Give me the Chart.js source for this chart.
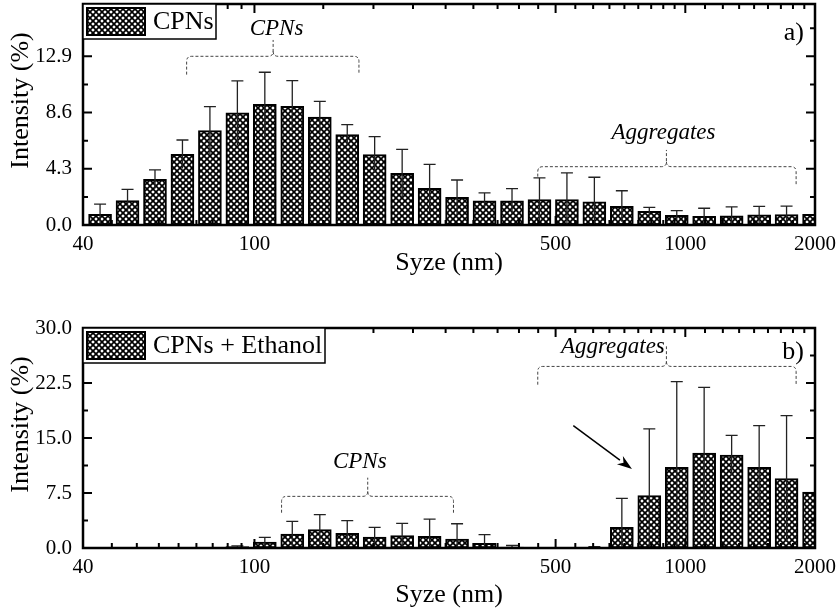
<!DOCTYPE html>
<html>
<head>
<meta charset="utf-8">
<title>CPNs size distribution</title>
<script src="https://cdn.jsdelivr.net/npm/chart.js@4.4.0/dist/chart.umd.min.js"></script>
<style>
    body {
        margin: 0;
        background-color: #fff;
    }
    .panel {
        position: absolute;
        left: 0;
    }
    #panelA { top: 0; }
    #panelB { top: 300px; }
</style>
</head>
<body>
<div class="panel" id="panelA"><canvas id="chartA" width="836" height="300"></canvas></div>
<div class="panel" id="panelB"><canvas id="chartB" width="836" height="311"></canvas></div>
<script>
// size bins (nm)
const sizes = [43.82, 50.75, 58.77, 68.06, 78.82, 91.28, 105.7, 122.4, 141.8, 164.2, 190.1, 220.2, 255.0,
    295.3, 342.0, 396.1, 458.7, 531.2, 615.1, 712.4, 825.0, 955.4, 1106, 1281, 1484, 1718, 1990];

// a) CPNs
const intensityA = [0.82, 1.86, 3.50, 5.41, 7.22, 8.57, 9.23, 9.08, 8.26, 6.91, 5.38, 3.95, 2.81,
    2.12, 1.84, 1.84, 1.94, 1.94, 1.78, 1.43, 1.05, 0.74, 0.66, 0.71, 0.77, 0.79, 0.82];
const errorA = [0.78, 0.87, 0.71, 1.09, 1.83, 2.45, 2.45, 1.96, 1.20, 0.76, 1.38, 1.84, 1.83,
    1.32, 0.61, 0.94, 1.66, 2.04, 1.87, 1.19, 0.30, 0.36, 0.62, 0.67, 0.66, 0.66, 0];

// b) CPNs + Ethanol
const intensityB = [0, 0, 0, 0, 0, 0.20, 0.82, 1.90, 2.50, 2.00, 1.50, 1.68, 1.58,
    1.22, 0.63, 0.14, 0, 0, 0.10, 2.82, 7.14, 11.0, 12.95, 12.68, 11.0, 9.45, 7.64];
const errorB = [0, 0, 0, 0, 0, 0.10, 0.63, 1.73, 2.04, 1.72, 1.31, 1.68, 2.37,
    2.09, 1.19, 0.20, 0, 0, 0.10, 3.95, 9.10, 11.7, 8.95, 2.68, 5.68, 8.60, 0];

// axis ticks
const xMajorTicks = [40, 100, 500, 1000, 2000];
const yTicksA = [0, 4.3, 8.6, 12.9];
const yMinorA = [2.15, 6.45, 10.75, 15.05];
const yTicksB = [0, 7.5, 15, 22.5, 30];
const yMinorB = [3.75, 11.25, 18.75, 26.25];

// 8 minor ticks between each pair of major ticks (Origin style)
const xMinorTicks = [];
for (let i = 0; i < xMajorTicks.length - 1; i++) {
    const a = xMajorTicks[i], b = xMajorTicks[i + 1];
    for (let k = 1; k < 9; k++) xMinorTicks.push(a + (b - a) * k / 9);
}
const xAllTicks = xMajorTicks.concat(xMinorTicks).sort((p, q) => p - q);

// annotations (data coords)
const bracketsA = [
    {label: 'CPNs', x0: 69.6, x1: 174.8, xPeak: 110.5, yBase: 12.9, yEnd0: 11.5, yEnd1: 11.5, yPeak: 14.15, lx: 112.5, ly: 15.0},
    {label: 'Aggregates', x0: 454.5, x1: 1808, xPeak: 904, yBase: 4.46, yEnd0: 3.7, yEnd1: 3.06, yPeak: 5.74, lx: 890, ly: 7.04}
];
const bracketsB = [
    {label: 'CPNs', x0: 115.6, x1: 289.7, xPeak: 183.2, yBase: 7.04, yEnd0: 4.81, yEnd1: 4.81, yPeak: 9.59, lx: 175.6, ly: 11.8},
    {label: 'Aggregates', x0: 454.5, x1: 1808, xPeak: 904, yBase: 24.76, yEnd0: 22.27, yEnd1: 22.27, yPeak: 27.5, lx: 679, ly: 27.45}
];
const arrowB = {x0: 549.6, y0: 16.68, x1: 752, y1: 10.77};

const SERIF = '"Liberation Serif", "Times New Roman", serif';

function makeHatch(ctx) {
    const c = document.createElement('canvas');
    c.width = 6; c.height = 6;
    const g = c.getContext('2d');
    g.fillStyle = '#fff';
    g.fillRect(0, 0, 6, 6);
    g.strokeStyle = '#000';
    g.lineWidth = 1.7;
    g.beginPath();
    g.moveTo(-1, -1); g.lineTo(7, 7);
    g.moveTo(7, -1); g.lineTo(-1, 7);
    g.moveTo(5, -1); g.lineTo(7, 1);
    g.moveTo(-1, 5); g.lineTo(1, 7);
    g.moveTo(-1, 1); g.lineTo(1, -1);
    g.moveTo(5, 7); g.lineTo(7, 5);
    g.stroke();
    return ctx.createPattern(c, 'repeat');
}

function drawBracket(ctx, xs, ys, b) {
    const xL = xs.getPixelForValue(b.x0), xR = xs.getPixelForValue(b.x1), xP = xs.getPixelForValue(b.xPeak);
    const yB = ys.getPixelForValue(b.yBase), yL = ys.getPixelForValue(b.yEnd0);
    const yR = ys.getPixelForValue(b.yEnd1), yP = ys.getPixelForValue(b.yPeak);
    const r = 5;
    ctx.beginPath();
    ctx.moveTo(xL, yL);
    ctx.lineTo(xL, yB + r);
    ctx.quadraticCurveTo(xL, yB, xL + r, yB);
    ctx.lineTo(xP - 5, yB);
    ctx.quadraticCurveTo(xP, yB, xP, yB - 5);
    ctx.lineTo(xP, yP);
    ctx.moveTo(xP, yB - 5);
    ctx.quadraticCurveTo(xP, yB, xP + 5, yB);
    ctx.lineTo(xR - r, yB);
    ctx.quadraticCurveTo(xR, yB, xR, yB + r);
    ctx.lineTo(xR, yR);
    ctx.stroke();
}

const panelDecor = {
    id: 'panelDecor',
    afterDatasetsDraw(chart, args, opts) {
        const ctx = chart.ctx;
        const {left, right, top, bottom} = chart.chartArea;
        const xs = chart.scales.x, ys = chart.scales.y;
        const meta = chart.getDatasetMeta(0);

        // error bars
        ctx.save();
        ctx.beginPath();
        ctx.rect(left, top, right - left, bottom - top);
        ctx.clip();
        ctx.strokeStyle = '#222';
        ctx.lineWidth = 1.3;
        meta.data.forEach((bar, i) => {
            const err = opts.errors[i];
            if (!err) return;
            const v = opts.values[i];
            const yTop = ys.getPixelForValue(v + err);
            const yBot = ys.getPixelForValue(Math.max(v - err, 0));
            ctx.beginPath();
            ctx.moveTo(bar.x, yBot);
            ctx.lineTo(bar.x, yTop);
            ctx.moveTo(bar.x - 6, yTop);
            ctx.lineTo(bar.x + 6, yTop);
            ctx.stroke();
        });
        ctx.restore();

        // brackets with italic labels
        ctx.save();
        ctx.strokeStyle = '#444';
        ctx.lineWidth = 1;
        ctx.setLineDash([3, 2]);
        opts.brackets.forEach(b => drawBracket(ctx, xs, ys, b));
        ctx.setLineDash([]);
        ctx.fillStyle = '#000';
        ctx.font = 'italic 23px ' + SERIF;
        ctx.textAlign = 'center';
        ctx.textBaseline = 'middle';
        opts.brackets.forEach(b => ctx.fillText(b.label, xs.getPixelForValue(b.lx), ys.getPixelForValue(b.ly)));
        ctx.restore();

        // arrow
        if (opts.arrow) {
            const a = opts.arrow;
            const x0 = xs.getPixelForValue(a.x0), y0 = ys.getPixelForValue(a.y0);
            const x1 = xs.getPixelForValue(a.x1), y1 = ys.getPixelForValue(a.y1);
            const ang = Math.atan2(y1 - y0, x1 - x0);
            const hl = 15, hw = 5;
            ctx.save();
            ctx.strokeStyle = '#000';
            ctx.fillStyle = '#000';
            ctx.lineWidth = 1.5;
            ctx.beginPath();
            ctx.moveTo(x0, y0);
            ctx.lineTo(x1 - hl * Math.cos(ang), y1 - hl * Math.sin(ang));
            ctx.stroke();
            ctx.beginPath();
            ctx.moveTo(x1, y1);
            ctx.lineTo(x1 - hl * Math.cos(ang) + hw * Math.sin(ang), y1 - hl * Math.sin(ang) - hw * Math.cos(ang));
            ctx.lineTo(x1 - hl * 0.7 * Math.cos(ang), y1 - hl * 0.7 * Math.sin(ang));
            ctx.lineTo(x1 - hl * Math.cos(ang) - hw * Math.sin(ang), y1 - hl * Math.sin(ang) + hw * Math.cos(ang));
            ctx.closePath();
            ctx.fill();
            ctx.restore();
        }
    },
    afterDraw(chart, args, opts) {
        const ctx = chart.ctx;
        const {left, right, top, bottom} = chart.chartArea;
        const xs = chart.scales.x, ys = chart.scales.y;
        ctx.save();
        ctx.strokeStyle = '#000';

        // inward ticks on all four sides
        ctx.lineWidth = 2;
        ctx.beginPath();
        xAllTicks.forEach(v => {
            const px = xs.getPixelForValue(v);
            const len = xMajorTicks.includes(v) ? 9 : 5;
            ctx.moveTo(px, bottom); ctx.lineTo(px, bottom - len);
            ctx.moveTo(px, top); ctx.lineTo(px, top + len);
        });
        opts.yMajor.concat(opts.yMinor).forEach(v => {
            const py = ys.getPixelForValue(v);
            const len = opts.yMajor.includes(v) ? 9 : 5;
            ctx.moveTo(left, py); ctx.lineTo(left + len, py);
            ctx.moveTo(right, py); ctx.lineTo(right - len, py);
        });
        ctx.stroke();

        // frame
        ctx.lineWidth = 2.5;
        ctx.strokeRect(left, top, right - left, bottom - top);

        // legend box
        const lw = opts.legendWidth;
        ctx.fillStyle = '#fff';
        ctx.fillRect(left, top, lw, 35);
        ctx.lineWidth = 1.5;
        ctx.strokeRect(left, top, lw, 35);
        ctx.fillStyle = opts.hatch;
        ctx.fillRect(left + 4, top + 4, 58, 27);
        ctx.lineWidth = 2;
        ctx.strokeRect(left + 4, top + 4, 58, 27);
        ctx.fillStyle = '#000';
        ctx.font = '26px ' + SERIF;
        ctx.textAlign = 'left';
        ctx.textBaseline = 'middle';
        ctx.fillText(opts.legend, left + 70, top + 18);

        // panel letter
        ctx.textAlign = 'right';
        ctx.fillText(opts.letter, right - 11, top + opts.letterDy);

        // y axis title
        ctx.save();
        ctx.translate(21, top + 96.5);
        ctx.rotate(-Math.PI / 2);
        ctx.textAlign = 'center';
        ctx.fillText('Intensity (%)', 0, 0);
        ctx.restore();

        ctx.restore();
    }
};

function makeChart(id, values, errors, cfg) {
    const canvas = document.getElementById(id);
    const hatch = makeHatch(canvas.getContext('2d'));
    return new Chart(canvas, {
        type: 'bar',
        data: {
            datasets: [{
                label: cfg.legend,
                data: sizes.map((s, i) => ({x: s, y: values[i]})),
                backgroundColor: hatch,
                borderColor: '#000',
                borderWidth: 2,
                borderSkipped: false,
                barThickness: 23
            }]
        },
        options: {
            responsive: false,
            animation: false,
            layout: {padding: {left: 0, right: 21, top: cfg.top, bottom: 0}},
            plugins: {
                legend: {display: false},
                tooltip: {enabled: false},
                panelDecor: {
                    values: values,
                    errors: errors,
                    brackets: cfg.brackets,
                    arrow: cfg.arrow,
                    yMajor: cfg.yTicks,
                    yMinor: cfg.yMinor,
                    hatch: hatch,
                    legend: cfg.legend,
                    legendWidth: cfg.legendWidth,
                    letter: cfg.letter,
                    letterDy: cfg.letterDy
                }
            },
            scales: {
                x: {
                    type: 'logarithmic',
                    min: 40,
                    max: 2000,
                    offset: false,
                    grid: {display: false, drawTicks: false},
                    border: {display: false},
                    afterBuildTicks: s => { s.ticks = xAllTicks.map(v => ({value: v})); },
                    afterFit: s => {
                        s.height = cfg.xHeight;
                        s.paddingLeft = 0;
                        s.paddingRight = 0;
                    },
                    ticks: {
                        autoSkip: false,
                        maxRotation: 0,
                        padding: 7,
                        color: '#000',
                        font: {family: SERIF, size: 21},
                        callback: v => xMajorTicks.includes(v) ? String(v) : ''
                    },
                    title: {
                        display: true,
                        text: 'Syze (nm)',
                        color: '#000',
                        font: {family: SERIF, size: 26},
                        padding: {top: 0, bottom: cfg.titlePad}
                    }
                },
                y: {
                    min: 0,
                    max: cfg.yMax,
                    grid: {display: false, drawTicks: false},
                    border: {display: false},
                    afterBuildTicks: s => { s.ticks = cfg.yTicks.map(v => ({value: v})); },
                    afterFit: s => {
                        s.width = 83;
                        s.paddingTop = 0;
                        s.paddingBottom = 0;
                    },
                    ticks: {
                        padding: 11,
                        color: '#000',
                        font: {family: SERIF, size: 21},
                        callback: v => v.toFixed(1)
                    }
                }
            }
        },
        plugins: [panelDecor]
    });
}

makeChart('chartA', intensityA, errorA, {
    legend: 'CPNs', legendWidth: 133, letter: 'a)', letterDy: 29,
    top: 4, xHeight: 75, titlePad: 21, yMax: 16.9,
    yTicks: yTicksA, yMinor: yMinorA, brackets: bracketsA, arrow: null
});
makeChart('chartB', intensityB, errorB, {
    legend: 'CPNs + Ethanol', legendWidth: 242, letter: 'b)', letterDy: 24,
    top: 28, xHeight: 63, titlePad: 0, yMax: 30,
    yTicks: yTicksB, yMinor: yMinorB, brackets: bracketsB, arrow: arrowB
});
</script>
</body>
</html>
